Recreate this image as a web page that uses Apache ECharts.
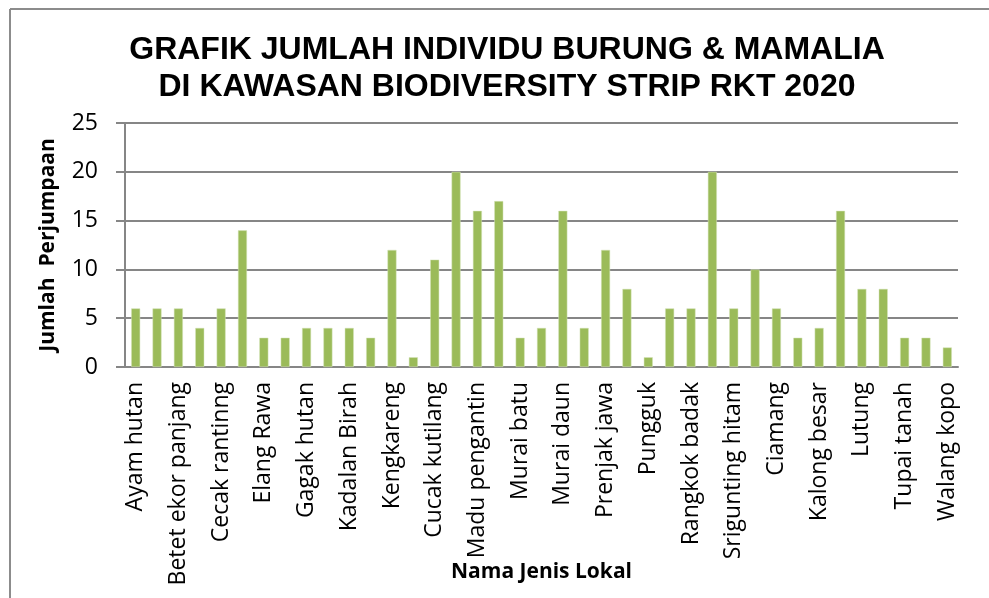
<!DOCTYPE html>
<html>
<head>
<meta charset="utf-8">
<script src="https://cdn.jsdelivr.net/npm/echarts@6/dist/echarts.min.js"></script>
<style>
  html, body { margin: 0; padding: 0; background: #fff; }
  #chart { width: 989px; height: 598px; }
</style>
</head>
<body>
<div id="chart"></div>
<script>
// 39 species, only every other name is printed on the axis
const species = [
  'Ayam hutan', 'Bentet kelabu', 'Betet ekor panjang', 'Cabe jawa', 'Cecak rantinng',
  'Cekakak sungai', 'Elang Rawa', 'Elang ular', 'Gagak hutan', 'Kacamata biasa',
  'Kadalan Birah', 'Kangkok', 'Kengkareng', 'Cucak hijau', 'Cucak kutilang',
  'Layang-layang', 'Madu pengantin', 'Merbah cerukcuk', 'Murai batu', 'Murai bukit',
  'Murai daun', 'Pelatuk', 'Prenjak jawa', 'Perkutut', 'Pungguk',
  'Raja udang', 'Rangkok badak', 'Sepah hutan', 'Srigunting hitam', 'Tekukur',
  'Ciamang', 'Kancil', 'Kalong besar', 'Kera ekor panjang', 'Lutung',
  'Musang', 'Tupai tanah', 'Tupai kelapa', 'Walang kopo',
]
const counts = [
  6, 6, 6, 4, 6,
  14, 3, 3, 4, 4,
  4, 3, 12, 1, 11,
  20, 16, 17, 3, 4,
  16, 4, 12, 8, 1,
  6, 6, 20, 6, 10,
  6, 3, 4, 16, 8,
  8, 3, 3, 2,
]

const chart = echarts.init(document.getElementById('chart'))
const labelFont = '"Open Sans", "DejaVu Sans", sans-serif'

chart.setOption({
  backgroundColor: '#fff',
  animation: false,
  title: {
    text: 'GRAFIK JUMLAH INDIVIDU BURUNG & MAMALIA\nDI KAWASAN BIODIVERSITY STRIP RKT 2020',
    left: 502,
    top: 27,
    textAlign: 'center',
    textStyle: {
      fontFamily: '"Liberation Sans Narrow", "Liberation Sans", Arial, sans-serif',
      fontWeight: 'bold',
      fontSize: 32,
      lineHeight: 37,
      color: '#000',
    },
  },
  graphic: [
    { type: 'line', shape: { x1: 10, y1: 9, x2: 989, y2: 9 }, style: { stroke: '#8c8c8c', lineWidth: 2 } },
    { type: 'line', shape: { x1: 10, y1: 9, x2: 10, y2: 598 }, style: { stroke: '#8c8c8c', lineWidth: 2 } },
  ],
  grid: {
    left: 125,
    right: 31,
    top: 123,
    bottom: 231,
    containLabel: false,
    outerBoundsMode: 'none',
  },
  xAxis: {
    type: 'category',
    data: species,
    name: 'Nama Jenis Lokal',
    nameLocation: 'middle',
    nameGap: 195,
    nameMoveOverlap: false,
    nameTextStyle: {
      fontFamily: labelFont,
      fontWeight: 'bold',
      fontSize: 21,
      color: '#000',
    },
    axisLine: { lineStyle: { color: '#868686', width: 2 } },
    axisTick: { show: false },
    axisLabel: {
      interval: 1,
      rotate: 90,
      margin: 15,
      fontFamily: labelFont,
      fontSize: 23,
      color: '#000',
    },
  },
  yAxis: {
    type: 'value',
    min: 0,
    max: 25,
    interval: 5,
    name: 'Jumlah  Perjumpaan',
    nameLocation: 'middle',
    nameGap: 66,
    nameMoveOverlap: false,
    nameTextStyle: {
      fontFamily: labelFont,
      fontWeight: 'bold',
      fontSize: 21,
      color: '#000',
    },
    axisLine: { show: true, lineStyle: { color: '#868686', width: 2 } },
    axisTick: { show: true, length: 9, lineStyle: { color: '#868686', width: 2 } },
    axisLabel: {
      margin: 27,
      fontFamily: labelFont,
      fontSize: 23,
      color: '#000',
    },
    splitLine: { lineStyle: { color: '#868686', width: 2 } },
  },
  series: [
    {
      type: 'bar',
      data: counts,
      barWidth: 9,
      itemStyle: {
        color: '#9bbb59',
        borderColor: '#d7e4bd',
        borderWidth: 0.5,
      },
    },
  ],
})
</script>
</body>
</html>
